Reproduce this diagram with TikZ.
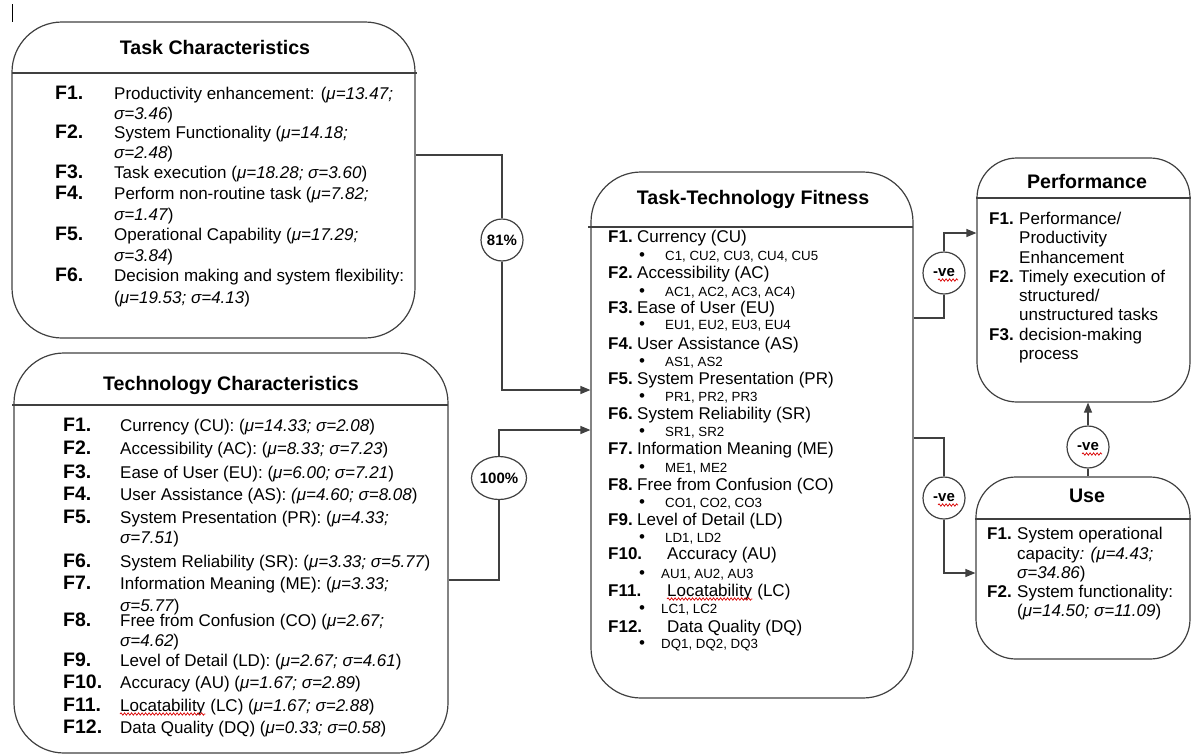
\documentclass[tikz,border=0pt]{standalone}
\usepackage{fontspec}
\setmainfont{Liberation Sans}
\usetikzlibrary{arrows.meta,decorations.pathmorphing,shapes.geometric}
\newcommand{\bulA}{\makebox[26pt][l]{\fontsize{17}{17}\selectfont •}}
\newcommand{\bulB}{\makebox[22pt][l]{\fontsize{17}{17}\selectfont •}}
\begin{document}
\begin{tikzpicture}[x=1pt,y=-1pt,
  box/.style={draw=black!75, line width=1.2pt, rectangle, inner sep=0pt, rounded corners=#1},
  hline/.style={draw=black!75, line width=1.2pt},
  conn/.style={draw=black!75, line width=1.2pt},
  arr/.style={conn, -{Triangle[length=10pt,width=8pt]}},
  ttl/.style={font=\fontsize{19.6}{22}\selectfont\bfseries, inner sep=0pt},
  txt/.style={anchor=base west, inner sep=0pt, font=\fontsize{17}{20}\selectfont},
  flab/.style={anchor=base west, inner sep=0pt, font=\fontsize{19.5}{22}\selectfont\bfseries},
  flabs/.style={anchor=base west, inner sep=0pt, font=\fontsize{17}{20}\selectfont\bfseries},
  bul/.style={anchor=base west, inner sep=0pt, font=\fontsize{13.3}{16}\selectfont},
  circ/.style={draw=black!75, line width=1.2pt, circle, minimum size=42pt, inner sep=0pt, fill=white, font=\fontsize{15}{17}\selectfont\bfseries},
  oval/.style={draw=black!75, line width=1.2pt, ellipse, minimum width=55pt, minimum height=43pt, inner sep=0pt, fill=white, font=\fontsize{15}{17}\selectfont\bfseries},
  wavy/.style={draw=red!85!black, line width=0.7pt, decorate, decoration={snake, amplitude=1.2pt, segment length=3.5pt}}
]
\useasboundingbox (0,0) rectangle (1192,755);
% cursor artifact
\draw[black, line width=1pt] (12,4) -- (12,22);

% ---------------- Task Characteristics ----------------
\node[box=50pt, minimum width=403pt, minimum height=316pt] (task) at (213.5,180) {};
\draw[hline] (12,73) -- (417,73);
\node[ttl] (taskt) at (215,47) {Task Characteristics};
\node[flab] (ta1) at (55,99) {F1.};
\node[txt] (tb1) at (114,99) {Productivity enhancement: (\textit{μ=13.47;}};
\node[txt] (tb1b) at (114,119) {\textit{σ=3.46})};
\node[flab] (ta2) at (55,138) {F2.};
\node[txt] (tb2) at (114,138) {System Functionality (\textit{μ=14.18;}};
\node[txt] (tb2b) at (114,158) {\textit{σ=2.48})};
\node[flab] (ta3) at (55,178) {F3.};
\node[txt] (tb3) at (114,178) {Task execution (\textit{μ=18.28; σ=3.60})};
\node[flab] (ta4) at (55,199) {F4.};
\node[txt] (tb4) at (114,199) {Perform non-routine task (\textit{μ=7.82;}};
\node[txt] (tb4b) at (114,220) {\textit{σ=1.47})};
\node[flab] (ta5) at (55,240) {F5.};
\node[txt] (tb5) at (114,240) {Operational Capability (\textit{μ=17.29;}};
\node[txt] (tb5b) at (114,261) {\textit{σ=3.84})};
\node[flab] (ta6) at (55,281) {F6.};
\node[txt] (tb6) at (114,281) {Decision making and system flexibility:};
\node[txt] (tb6b) at (114,303) {(\textit{μ=19.53; σ=4.13})};

% ---------------- Technology Characteristics ----------------
\node[box=50pt, minimum width=434pt, minimum height=400pt] (tech) at (231,553) {};
\draw[hline] (12,405) -- (448,405);
\node[ttl] (techt) at (231,385) {Technology Characteristics};
\node[flab] (ha1) at (63,431) {F1.};
\node[txt] (hb1) at (120,431) {Currency (CU): (\textit{μ=14.33; σ=2.08})};
\node[flab] (ha2) at (63,454) {F2.};
\node[txt] (hb2) at (120,454) {Accessibility (AC): (\textit{μ=8.33; σ=7.23})};
\node[flab] (ha3) at (63,478) {F3.};
\node[txt] (hb3) at (120,478) {Ease of User (EU): (\textit{μ=6.00; σ=7.21})};
\node[flab] (ha4) at (63,500) {F4.};
\node[txt] (hb4) at (120,500) {User Assistance (AS): \textit{(μ=4.60; σ=8.08})};
\node[flab] (ha5) at (63,523) {F5.};
\node[txt] (hb5) at (120,523) {System Presentation (PR): (\textit{μ=4.33;}};
\node[txt] (hb5b) at (120,543) {\textit{σ=7.51})};
\node[flab] (ha6) at (63,567) {F6.};
\node[txt] (hb6) at (120,567) {System Reliability (SR): (\textit{μ=3.33; σ=5.77})};
\node[flab] (ha7) at (63,589) {F7.};
\node[txt] (hb7) at (120,589) {Information Meaning (ME): (\textit{μ=3.33;}};
\node[txt] (hb7b) at (120,611) {\textit{σ=5.77})};
\node[flab] (ha8) at (63,626) {F8.};
\node[txt] (hb8) at (120,626) {Free from Confusion (CO) (\textit{μ=2.67;}};
\node[txt] (hb8b) at (120,646) {\textit{σ=4.62})};
\node[flab] (ha9) at (63,666) {F9.};
\node[txt] (hb9) at (120,666) {Level of Detail (LD): (\textit{μ=2.67; σ=4.61})};
\node[flab] (ha10) at (63,688) {F10.};
\node[txt] (hb10) at (120,688) {Accuracy (AU) (\textit{μ=1.67; σ=2.89})};
\node[flab] (ha11) at (63,711) {F11.};
\node[txt] (hb11) at (120,711) {Locatability};
\node[txt] (hb11b) at (hb11.base east) {~(LC) (\textit{μ=1.67; σ=2.88})};
\draw[wavy] ([yshift=-3pt]hb11.base west) -- ([yshift=-3pt]hb11.base east);
\node[flab] (ha12) at (63,733) {F12.};
\node[txt] (hb12) at (120,733) {Data Quality (DQ) (\textit{μ=0.33; σ=0.58})};

% ---------------- Task-Technology Fitness ----------------
\node[box=50pt, minimum width=322pt, minimum height=526pt] (ttf) at (752,435) {};
\draw[hline] (588,227) -- (913,227);
\node[ttl] (ttft) at (753,199) {Task-Technology Fitness};
\node[flabs] (fa1) at (608,242) {F1.};
\node[txt] (fb1) at (637,242) {Currency (CU)};
\node[bul] (fc1) at (639,260) {\bulA C1, CU2, CU3, CU4, CU5};
\node[flabs] (fa2) at (608,278) {F2.};
\node[txt] (fb2) at (637,278) {Accessibility (AC)};
\node[bul] (fc2) at (639,296) {\bulA AC1, AC2, AC3, AC4)};
\node[flabs] (fa3) at (608,313) {F3.};
\node[txt] (fb3) at (637,313) {Ease of User (EU)};
\node[bul] (fc3) at (639,329) {\bulA EU1, EU2, EU3, EU4};
\node[flabs] (fa4) at (608,349) {F4.};
\node[txt] (fb4) at (637,349) {User Assistance (AS)};
\node[bul] (fc4) at (639,366) {\bulA AS1, AS2};
\node[flabs] (fa5) at (608,384) {F5.};
\node[txt] (fb5) at (637,384) {System Presentation (PR)};
\node[bul] (fc5) at (639,401) {\bulA PR1, PR2, PR3};
\node[flabs] (fa6) at (608,419) {F6.};
\node[txt] (fb6) at (637,419) {System Reliability (SR)};
\node[bul] (fc6) at (639,436) {\bulA SR1, SR2};
\node[flabs] (fa7) at (608,454) {F7.};
\node[txt] (fb7) at (637,454) {Information Meaning (ME)};
\node[bul] (fc7) at (639,472) {\bulA ME1, ME2};
\node[flabs] (fa8) at (608,490) {F8.};
\node[txt] (fb8) at (637,490) {Free from Confusion (CO)};
\node[bul] (fc8) at (639,507) {\bulA CO1, CO2, CO3};
\node[flabs] (fa9) at (608,525) {F9.};
\node[txt] (fb9) at (637,525) {Level of Detail (LD)};
\node[bul] (fc9) at (639,542) {\bulA LD1, LD2};
\node[flabs] (fa10) at (608,559) {F10.};
\node[txt] (fb10) at (667,559) {Accuracy (AU)};
\node[bul] (fc10) at (639,578) {\bulB AU1, AU2, AU3};
\node[flabs] (fa11) at (608,596) {F11.};
\node[txt] (fb11) at (667,596) {Locatability};
\node[txt] (fb11b) at (fb11.base east) {~(LC)};
\draw[wavy] ([yshift=-3pt]fb11.base west) -- ([yshift=-3pt]fb11.base east);
\node[bul] (fc11) at (639,613) {\bulB LC1, LC2};
\node[flabs] (fa12) at (608,632) {F12.};
\node[txt] (fb12) at (667,632) {Data Quality (DQ)};
\node[bul] (fc12) at (639,648) {\bulB DQ1, DQ2, DQ3};

% ---------------- Performance ----------------
\node[box=40pt, minimum width=213pt, minimum height=244pt] (perf) at (1083.5,280) {};
\draw[hline] (976,198) -- (1191,198);
\node[ttl] (perft) at (1087,181) {Performance};
\node[flabs] (pa1) at (989,224) {F1.};
\node[txt] (pb1) at (1019,224) {Performance/};
\node[txt] (pb1b) at (1019,243) {Productivity};
\node[txt] (pb1c) at (1019,263) {Enhancement};
\node[flabs] (pa2) at (989,282) {F2.};
\node[txt] (pb2) at (1019,282) {Timely execution of};
\node[txt] (pb2b) at (1019,301) {structured/};
\node[txt] (pb2c) at (1019,320) {unstructured tasks};
\node[flabs] (pa3) at (989,340) {F3.};
\node[txt] (pb3) at (1019,340) {decision-making};
\node[txt] (pb3b) at (1019,359) {process};

% ---------------- Use ----------------
\node[box=40pt, minimum width=214pt, minimum height=182pt] (use) at (1083,568) {};
\draw[hline] (975,519) -- (1191,519);
\node[ttl] (uset) at (1087,496) {Use};
\node[flabs] (ua1) at (987,539) {F1.};
\node[txt] (ub1) at (1017,539) {System operational};
\node[txt] (ub1b) at (1017,559) {capacity\textit{: (μ=4.43;}};
\node[txt] (ub1c) at (1017,578) {\textit{σ=34.86})};
\node[flabs] (ua2) at (987,597) {F2.};
\node[txt] (ub2) at (1017,597) {System functionality:};
\node[txt] (ub2b) at (1017,616) {(\textit{μ=14.50; σ=11.09})};

% ---------------- connectors ----------------
\node[circ] (c81) at (502,240) {81\%};
\node[oval] (c100) at (499,478) {100\%};
\node[circ] (n1) at (944,273) {-ve};
\node[circ] (n2) at (944,498) {-ve};
\node[circ] (n3) at (1088,447) {-ve};
\foreach \n in {n1,n2,n3}{
  \draw[wavy] ([xshift=-6pt,yshift=-7pt]\n.center) -- ([xshift=14pt,yshift=-7pt]\n.center);
}

\draw[conn] (task.east |- 0,155) -| (c81.north);
\draw[arr] (c81.south) |- (ttf.west |- 0,390);
\draw[conn] (tech.east |- 0,580) -| (c100.south);
\draw[arr] (c100.north) |- (ttf.west |- 0,430);
\draw[conn] (ttf.east |- 0,318) -| (n1.south);
\draw[arr] (n1.north) |- (perf.west |- 0,233);
\draw[conn] (ttf.east |- 0,438) -| (n2.north);
\draw[arr] (n2.south) |- (use.west |- 0,573);
\draw[conn] (use.north -| n3) -- (n3.south);
\draw[arr] (n3.north) -- (perf.south -| n3);
\end{tikzpicture}
\end{document}
